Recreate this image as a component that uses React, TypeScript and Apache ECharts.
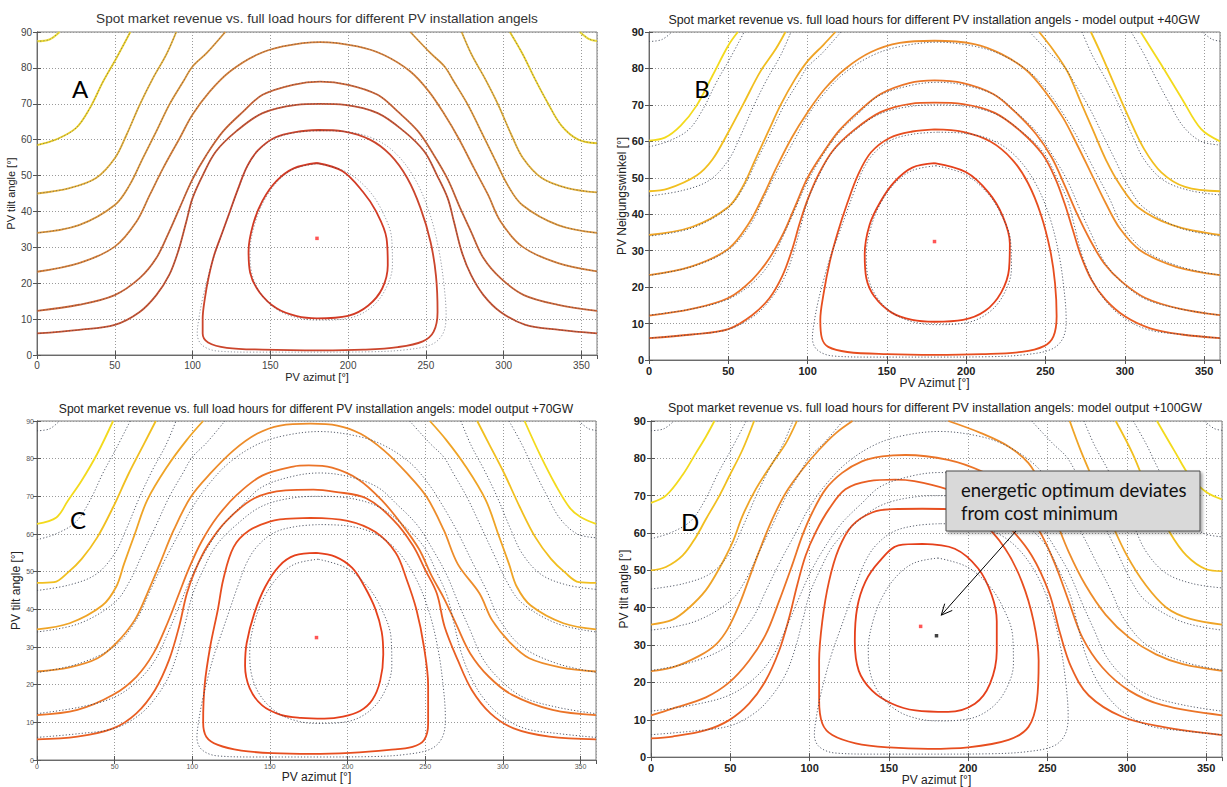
import React, { useEffect, useRef } from "react";
import * as echarts from "echarts";

type Pt = [number, number];

// ---------- axes ----------
const AZIMUT_RANGE: [number, number] = [0, 360];
const AZIMUT_STEP = 50;
const TILT_RANGE: [number, number] = [0, 90];
const TILT_STEP = 10;

// ---------- texts ----------
const PANEL_TITLES = [
  "Spot market revenue vs. full load hours for different PV installation angels",
  "Spot market revenue vs. full load hours for different PV installation angels - model output +40GW",
  "Spot market revenue vs. full load hours for different PV installation angels: model output +70GW",
  "Spot market revenue vs. full load hours for different PV installation angels: model output +100GW",
];
const PANEL_LETTERS = ["A", "B", "C", "D"];
const X_NAMES = ["PV azimut [°]", "PV Azimut [°]", "PV azimut [°]", "PV azimut [°]"];
const Y_NAMES = ["PV tilt angle [°]", "PV Neigungswinkel [°]", "PV tilt angle [°]", "PV tilt angle [°]"];
const NOTE_LINES = ["energetic optimum deviates", "from cost minimum"];

// ---------- reference contours (dotted, energy yield, identical in all panels) ----------
const REF_L0_LEFT: Pt[] = [[0, 87.4], [8, 87.9], [14.5, 90]];
const REF_L0_RIGHT: Pt[] = [[349, 90], [355, 88], [360, 87.5]];
const REF_L1_LEFT: Pt[] = [[0, 58.5], [12, 60], [25, 63.2], [34, 68.8], [42.5, 76.2], [51, 82.7], [60, 90]];
const REF_L1_RIGHT: Pt[] = [[304, 90], [312, 84], [320, 77], [328, 70.5], [337, 64], [348, 60], [360, 59]];
const REF_L2_LEFT: Pt[] = [[0, 45], [21, 46.5], [38, 49.3], [50, 54.8], [57.5, 61.3], [66, 69.7], [74.5, 77.1], [83, 83.6], [89.5, 90]];
const REF_L2_RIGHT: Pt[] = [[273, 90], [279.5, 83.6], [288, 77], [296.5, 69.7], [305, 61.3], [312.5, 54.8], [324.5, 49.3], [341, 46.5], [360, 45.3]];
const REF_L3_LEFT: Pt[] = [[0, 34], [27, 36.2], [50, 41.8], [59.6, 47.4], [68, 54.8], [76.7, 62.3], [85, 69.7], [94, 76.2], [100, 80.4], [109, 84.1], [121, 90]];
const REF_L3_RIGHT: Pt[] = [[240, 90], [253, 84.1], [262, 80.4], [268, 76.2], [277, 69.7], [285.5, 62.3], [294, 54.8], [302.5, 47.4], [312, 41.8], [335, 36.2], [360, 34]];
const REF_R5: Pt[] = [[0, 23.2], [27, 25.6], [50, 30.2], [64, 37.2], [72.5, 44.6], [81, 52], [91.7, 60.4], [100, 67], [111, 73.4], [124, 79], [141, 83.6], [158, 86], [182, 87.2], [206, 86], [223, 83.6], [240, 79], [252, 73.4], [262, 67], [271, 60.4], [281, 52], [290, 44.6], [298, 37.2], [312, 30.2], [335, 25.6], [360, 23.3]];
const REF_R4: Pt[] = [[0, 12.3], [27, 14], [50, 16.7], [66, 21.4], [76.7, 27], [85, 34.4], [91.7, 41], [100, 49], [109, 55.8], [119.6, 62.3], [132.5, 67.8], [145, 72.5], [164.6, 75.3], [182, 76.2], [200, 75.3], [219, 72.5], [232, 67.8], [245, 62.3], [255, 55.8], [264, 49], [272, 41], [279, 34.4], [287, 27], [298, 21.4], [313, 16.7], [335, 14], [360, 12.3]];
const REF_R3: Pt[] = [[0, 6], [27, 7], [50, 8.4], [66, 12], [76.7, 16.7], [85, 22.3], [90.7, 28.8], [96, 37.2], [100, 43.7], [106.7, 50.2], [115, 56.7], [128, 62.3], [145, 67.4], [166.8, 69.7], [182, 70], [198, 69.7], [219, 67.4], [236, 62.3], [249, 56.7], [257, 50.2], [264, 43.7], [268, 37.2], [273, 28.8], [279, 22.3], [287, 16.7], [298, 12], [314, 8.4], [336, 7], [360, 6]];
const REF_U: Pt[] = [[182, 62.5], [167, 62], [153, 60.4], [142, 56.8], [135, 52.3], [129, 45.8], [124, 39.8], [119, 33.8], [114, 27.8], [110, 21.8], [106.5, 15.8], [104, 10], [103, 6], [106, 2.8], [116, 1.1], [140, 0.8], [182, 0.8], [215, 0.9], [238, 1.5], [254, 3], [261, 6], [263, 11], [261.5, 20], [258, 30], [252, 40], [243, 49], [231, 56], [217, 60.2], [199, 62.2], [182, 62.5]];
const REF_R1: Pt[] = [[181, 53.3], [166, 52], [155, 48.5], [146, 43], [140, 36.5], [137, 29], [138, 23], [144, 17], [155, 12.5], [168, 10.3], [181, 9.7], [201, 10.3], [215, 13.3], [224, 18.3], [228.5, 25], [228, 32.5], [222, 40], [213, 46], [199, 51], [181, 53.3]];

// ---------- panel A (status quo) ----------
const A_U: Pt[] = [[181, 62.7], [167, 62.2], [153, 60.6], [142, 57], [135, 52.5], [129, 46], [124, 40], [119, 34], [114, 28], [110.5, 22], [108, 16], [106.5, 10], [106.5, 6], [110, 3.5], [122, 2], [145, 1.5], [182, 1.3], [210, 1.5], [232, 2.2], [248, 3.8], [255, 6.5], [257.5, 12], [256.5, 22], [253, 31.5], [246.5, 41], [238, 49.3], [227, 55.8], [214, 60], [197, 62.3], [181, 62.7]];
const A_R1: Pt[] = [[180, 53.5], [165, 52], [154, 48.5], [145, 43], [139, 36.5], [136, 29], [137, 23], [143, 17.5], [154, 13], [167, 10.8], [180, 10.2], [200, 10.9], [213, 13.8], [222, 18.6], [225.5, 25], [224.7, 32.5], [218, 40], [209.5, 45.5], [196.5, 51.2], [180, 53.5]];

// ---------- panel B (+40 GW) ----------
const B_L1_LEFT: Pt[] = [[0, 60.2], [10, 61], [20, 64.3], [30, 69.8], [40, 78], [50, 86.3], [56, 90]];
const B_L1_RIGHT: Pt[] = [[310, 90], [323, 81], [336, 71.7], [348, 63.4], [360, 60]];
const B_L2_LEFT: Pt[] = [[0, 46.3], [12, 47], [30, 50.6], [40, 55], [50, 62.5], [60, 70.7], [70, 79], [80, 85.4], [86, 90]];
const B_L2_RIGHT: Pt[] = [[278.6, 90], [285, 84], [293, 76], [302, 67], [312, 58], [323, 51.5], [338, 47.5], [360, 46.3]];
const B_L3_LEFT: Pt[] = [[0, 34.3], [27, 36.5], [50, 42], [59, 47.5], [67, 55], [75, 62.5], [83, 70], [92, 77], [100, 82], [110, 86.5], [117.5, 90]];
const B_L3_RIGHT: Pt[] = [[246, 90], [255, 85], [264, 79], [272, 71], [280, 63], [288, 55], [297, 48], [308, 42], [330, 37], [360, 34.3]];
const B_R5: Pt[] = [[0, 23.3], [27, 25.7], [50, 30.5], [63, 37.5], [72, 45], [80, 52.5], [90, 61], [100, 68], [111, 74.5], [124, 80], [140, 84.5], [158, 87], [180, 87.6], [205, 86.7], [222, 84], [238, 79.5], [250, 73.5], [261, 66.5], [270, 59], [279, 51], [288, 43], [297, 36], [310, 30], [333, 25.5], [360, 23.3]];
const B_R4: Pt[] = [[0, 12.2], [27, 14], [50, 17], [65, 22], [76, 28], [85, 35], [92, 42], [100, 50], [110, 57], [120, 63], [133, 68.5], [146, 73], [164, 76], [180, 76.7], [198, 76], [217, 73], [231, 68], [244, 62], [254, 55.5], [262, 48], [270, 40], [278, 33], [287, 26.5], [298, 21.5], [313, 17], [335, 14], [360, 12.3]];
const B_R3: Pt[] = [[0, 6], [27, 7], [50, 8.5], [65, 12.3], [76, 17], [84, 23], [90, 30], [95, 37.5], [100, 44], [107, 51], [116, 57.5], [129, 63], [146, 68], [165, 70.3], [180, 70.6], [198, 70.2], [218, 67.8], [235, 62.5], [248, 56.5], [256, 50], [262, 43], [267, 36], [272, 29], [279, 22], [288, 16.5], [300, 12], [316, 8.7], [336, 7], [360, 6]];
const B_U: Pt[] = [[180, 63.3], [166, 62.7], [152, 61], [140, 57], [132, 51], [125, 43], [119, 35], [114, 27], [110, 18], [108, 11], [109, 6], [113, 3.6], [125, 2.2], [150, 1.6], [180, 1.4], [210, 1.6], [235, 2.2], [249, 3.8], [255, 6.5], [257, 12], [256, 21], [253, 30], [247, 40], [239, 48.5], [229, 55], [215, 60], [198, 62.6], [180, 63.3]];
const B_R1: Pt[] = [[180, 54], [166, 52.8], [155, 49], [146, 43.5], [139, 37], [136, 29], [137, 22.5], [142, 17.5], [153, 13], [166, 11], [180, 10.5], [198, 11], [212, 13.5], [222, 18.5], [227, 25], [227.5, 32], [223, 39.5], [214, 46], [200, 51.5], [180, 54]];

// ---------- panel C (+70 GW) ----------
const C_L1_LEFT: Pt[] = [[0, 62.7], [12.5, 64.4], [20, 68.9], [28.8, 74.2], [38.8, 81.3], [49, 90]];
const C_L1_RIGHT: Pt[] = [[314, 90], [324, 81], [334, 73], [343, 67], [350, 64.5], [360, 62.7]];
const C_L2_LEFT: Pt[] = [[0, 47], [11, 47.2], [20, 49.8], [28.8, 53.4], [38.8, 59.1], [49, 67.1], [59, 76], [69, 84], [76.5, 90]];
const C_L2_RIGHT: Pt[] = [[283.5, 90], [291, 84], [301, 76], [311, 67.1], [321, 59.1], [331, 53.4], [340, 49.8], [349, 47.2], [360, 47]];
const C_L3_LEFT: Pt[] = [[0, 34.7], [21, 36.3], [42, 41], [51, 46], [56, 52], [63, 60], [71, 69], [84, 78], [96.5, 85], [107, 90]];
const C_L3_RIGHT: Pt[] = [[253, 90], [263.5, 85], [276, 78], [289, 69], [297, 60], [304, 52], [309, 46], [318, 41], [339, 36.3], [360, 34.7]];
const C_R5: Pt[] = [[0, 23.5], [21, 24.6], [39, 27], [51, 31], [63, 37.2], [71, 44.2], [79, 52], [88, 61], [99, 69.8], [111.5, 76], [126.6, 82.2], [141.6, 86.6], [156.6, 88.8], [176, 89.3], [193.4, 88.8], [208.4, 86.6], [223.4, 82.2], [238.5, 76], [251, 69.8], [262, 61], [271, 52], [285, 44.2], [293, 37.2], [305, 31], [317, 27], [337, 24.6], [360, 23.5]];
const C_R4: Pt[] = [[0, 11.9], [26, 13.3], [49, 17.3], [64, 22.1], [75, 28.3], [84, 36.3], [91.5, 44.2], [98, 51], [106, 58], [116, 64.5], [129, 70.5], [145, 75.5], [165, 77.9], [175, 78.2], [190, 77.6], [207, 74.5], [222, 69], [235, 62.5], [246, 56], [254, 49], [262, 43], [270, 36], [279, 28.3], [291, 22.1], [306, 17.3], [332, 13.3], [360, 11.9]];
const C_R3: Pt[] = [[0, 5.5], [26, 6.2], [49, 8.4], [64, 12.4], [76, 18.6], [85, 26.5], [91.5, 35.4], [96.5, 44.2], [102, 50.5], [110, 57], [122, 63.5], [140, 69.5], [160, 71.6], [178, 71.8], [192, 71.2], [212, 69.5], [230, 63.5], [242, 57], [250, 50.5], [257.5, 44.2], [262.5, 35.4], [271, 26.5], [280, 18.6], [292, 12.4], [307, 8.4], [330, 6.2], [360, 5.5]];
const C_U: Pt[] = [[176, 64.3], [160, 64], [151.6, 63.5], [136.6, 60.9], [126.6, 56.5], [120, 48], [116.5, 40], [111.5, 30], [108, 20], [107, 10], [109, 6.2], [116.5, 4], [131.6, 2.5], [151.6, 1.8], [176.7, 1.6], [201.8, 1.9], [226.8, 2.7], [241.8, 3.5], [249.3, 5.3], [251.9, 9.7], [251.9, 19.8], [249.3, 29.8], [244.3, 40], [238, 48], [231, 55], [218, 60.5], [200, 63.5], [176, 64.3]];
const C_R1: Pt[] = [[180, 55], [166, 54.3], [156, 51.5], [147, 46], [140, 39], [135, 31], [134, 25], [137, 19], [145, 14.5], [157, 12], [170, 11.2], [185, 11], [197, 11.5], [208, 13], [216, 16], [221, 21], [223, 28], [222, 34], [218, 40], [211, 46], [203, 51], [192, 54], [180, 55]];

// ---------- panel D (+100 GW) ----------
const D_L1_LEFT: Pt[] = [[0, 68.1], [9.4, 70], [20, 75.6], [28.3, 81.4], [34.6, 85.8], [40, 90]];
const D_L1_RIGHT: Pt[] = [[319, 90], [330, 82], [340, 75], [350, 71], [360, 69]];
const D_L2_LEFT: Pt[] = [[0, 50], [9.4, 50.9], [20, 54], [28.3, 58.9], [34.6, 63.7], [43, 69.9], [49.3, 75.2], [57.7, 82.3], [65, 90]];
const D_L2_RIGHT: Pt[] = [[293, 90], [303.5, 81.4], [314, 70.8], [327, 60.2], [337.5, 54], [350, 50.3], [360, 49.8]];
const D_L3_LEFT: Pt[] = [[0, 35.5], [13.6, 36.8], [24, 40], [34.6, 44.7], [43, 50.5], [51.4, 57.5], [57.7, 64.6], [66, 71.7], [76.5, 78.7], [85, 84], [92, 90]];
const D_L3_RIGHT: Pt[] = [[264, 90], [271, 82], [280, 73], [290, 63], [300, 54], [312, 46], [325, 40], [340, 37], [360, 35.5]];
const D_R5_LEFT: Pt[] = [[0, 23], [13.6, 24], [30.4, 27.1], [41, 30.2], [48.2, 34.2], [55.6, 40.8], [61.8, 47.8], [68, 54.9], [76.5, 63.7], [85, 70.8], [95.4, 77], [106, 82.3], [116.4, 86.7], [127, 90]];
const D_R5_RIGHT: Pt[] = [[187.5, 90], [208.5, 86.7], [225.4, 83.2], [238, 78.7], [246.5, 72.5], [255, 63.7], [263.4, 54.9], [274, 46], [286.7, 38.1], [301.5, 32], [318.4, 27.5], [335.3, 24.9], [360, 23.1]];
const D_R4: Pt[] = [[0, 11.2], [13.6, 13], [34.6, 16], [49.3, 20], [61.8, 25.8], [72.3, 32.8], [80.7, 41.7], [89, 51.4], [95.4, 59.3], [101.7, 65.5], [110, 71.7], [120.5, 76.1], [133, 79.2], [145.7, 80.5], [160.4, 80.9], [187.3, 79.6], [208.5, 76.5], [223.3, 72.5], [236, 66.4], [246.5, 59.3], [255, 51.4], [263.4, 41.7], [272, 32], [284.6, 24], [301.5, 17.8], [322.6, 13.9], [360, 11.2]];
const D_R3: Pt[] = [[0, 5], [13.6, 5.5], [34.6, 7.2], [49.3, 9.9], [61.8, 14.3], [72.3, 20.5], [80.7, 28.4], [87, 37.2], [92.2, 46.1], [97.5, 54], [103.8, 60.2], [112.2, 66.4], [122.6, 71.7], [137.3, 73.9], [154, 74.3], [166, 73.9], [187, 71.7], [208.5, 68.1], [226, 61.5], [240, 54], [251, 44], [258, 33], [265, 24], [276, 16.5], [297, 10.8], [322.6, 8.1], [360, 5.9]];
const D_U: Pt[] = [[171, 66.5], [152, 66.4], [139.4, 65.5], [126.8, 62], [118.4, 55.8], [112.2, 47], [108, 36.4], [106, 25.8], [106, 15.2], [108, 9], [114.3, 5.9], [129, 3.7], [150, 2.6], [175, 2.2], [200, 2.6], [225.4, 4.6], [238, 8.1], [243.3, 15.2], [244.4, 25.8], [241.2, 36.4], [233.8, 47], [223.3, 55.8], [208.5, 62.8], [187.3, 66.4], [171, 66.5]];
const D_R1: Pt[] = [[171, 57.1], [156, 56.7], [143.6, 52.2], [135.2, 47], [130, 40], [128.5, 31], [131, 23.1], [139.4, 17.8], [152, 14.3], [166.7, 12.5], [187.3, 12.1], [204.2, 14.3], [213.7, 19.6], [218, 28.4], [218, 36.4], [214.8, 43.4], [206.3, 50.5], [191.5, 55.8], [171, 57.1]];

// ---------- optimum markers ----------
const COST_MINIMUM: Pt[] = [[180, 32.5], [180, 32.5], [180, 32.5], [170, 35]];
const ENERGETIC_OPTIMUM_D: Pt = [180, 32.5];
const NOTE_ARROW_TIP: Pt = [183, 38];

// ---------- assembling (level index, points) ----------
const REF_CURVES: Pt[][] = [REF_L0_LEFT, REF_L0_RIGHT, REF_L1_LEFT, REF_L1_RIGHT, REF_L2_LEFT, REF_L2_RIGHT, REF_L3_LEFT, REF_L3_RIGHT, REF_R5, REF_R4, REF_R3, REF_U, REF_R1];
const PANEL_CURVES: [number, Pt[]][][] = [
  [[0, REF_L0_LEFT], [0, REF_L0_RIGHT], [1, REF_L1_LEFT], [1, REF_L1_RIGHT], [2, REF_L2_LEFT], [2, REF_L2_RIGHT], [3, REF_L3_LEFT], [3, REF_L3_RIGHT], [4, REF_R5], [5, REF_R4], [6, REF_R3], [7, A_U], [8, A_R1]],
  [[1, B_L1_LEFT], [1, B_L1_RIGHT], [2, B_L2_LEFT], [2, B_L2_RIGHT], [3, B_L3_LEFT], [3, B_L3_RIGHT], [4, B_R5], [5, B_R4], [6, B_R3], [7, B_U], [8, B_R1]],
  [[1, C_L1_LEFT], [1, C_L1_RIGHT], [2, C_L2_LEFT], [2, C_L2_RIGHT], [3, C_L3_LEFT], [3, C_L3_RIGHT], [4, C_R5], [5, C_R4], [6, C_R3], [7, C_U], [8, C_R1]],
  [[1, D_L1_LEFT], [1, D_L1_RIGHT], [2, D_L2_LEFT], [2, D_L2_RIGHT], [3, D_L3_LEFT], [3, D_L3_RIGHT], [4, D_R5_LEFT], [4, D_R5_RIGHT], [5, D_R4], [6, D_R3], [7, D_U], [8, D_R1]],
];

// ---------- styles ----------
const LEVEL_COLORS = ["#f2e64a", "#f3da1c", "#f1bf1f", "#efa426", "#ed8c2a", "#eb7428", "#e95f23", "#e74e1f", "#e5401b"];
const LEVEL_COLORS_A = ["#f0de3c", "#eccf2a", "#e4b03a", "#dd963a", "#d9823a", "#cf6636", "#c95432", "#cb452c", "#d23a24"];
const LAYOUT = [
  { grid: { left: 37, top: 32, width: 560, height: 323 }, tick: 10, weight: "normal", tickColor: "#444", name: 11, yGap: 18, xGap: 16, tMargin: 5, tx: 317, ty: 18, ts: 13.6, tc: "#333", lx: 80, ly: 88 },
  { grid: { left: 649, top: 32, width: 571, height: 328 }, tick: 11, weight: "bold", tickColor: "#222", name: 12, yGap: 20, xGap: 15, tMargin: 5, tx: 934, ty: 20, ts: 12.4, tc: "#222", lx: 702, ly: 88 },
  { grid: { left: 37, top: 421, width: 559, height: 339 }, tick: 7, weight: "normal", tickColor: "#555", name: 12, yGap: 13, xGap: 11, tMargin: 3, tx: 316, ty: 409, ts: 12.1, tc: "#222", lx: 78, ly: 519 },
  { grid: { left: 651, top: 421, width: 571, height: 340 }, tick: 11, weight: "bold", tickColor: "#222", name: 12, yGap: 18, xGap: 14, tMargin: 5, tx: 935, ty: 408, ts: 12.4, tc: "#222", lx: 690, ly: 521 },
];
const SANS = "'Liberation Sans', Arial, sans-serif";
const NOTE_FONT = "Lato, 'Open Sans', sans-serif";

export default function App() {
  const ref = useRef<HTMLDivElement>(null);
  useEffect(() => {
    document.body.style.margin = "0";
    if (!ref.current) return;
    const chart = echarts.init(ref.current, undefined, { renderer: "svg" });

    const grids: any[] = [];
    const xAxes: any[] = [];
    const yAxes: any[] = [];
    const topAxes: any[] = [];
    const rightAxes: any[] = [];
    const series: any[] = [];
    const graphics: any[] = [];

    LAYOUT.forEach((L, i) => {
      grids.push({ ...L.grid, show: true, borderColor: "#7a7a7a", borderWidth: 1, backgroundColor: "#fff", containLabel: false });
      const common = {
        type: "value",
        gridIndex: i,
        axisLine: { show: true, lineStyle: { color: "#6a6a6a", width: 1 } },
        axisTick: { show: true, inside: true, length: 4, lineStyle: { color: "#555" } },
      };
      xAxes.push({
        ...common,
        min: AZIMUT_RANGE[0], max: AZIMUT_RANGE[1], interval: AZIMUT_STEP,
        name: X_NAMES[i], nameLocation: "middle", nameGap: L.xGap,
        nameTextStyle: { fontFamily: SANS, fontSize: L.name, color: "#222" },
        axisLabel: { fontFamily: SANS, fontSize: L.tick, fontWeight: L.weight, color: L.tickColor, margin: L.tMargin, showMaxLabel: false },
        splitLine: { show: true, lineStyle: { type: [1, 2], color: "#9a9a9a", width: 1 } },
      });
      yAxes.push({
        ...common,
        min: TILT_RANGE[0], max: TILT_RANGE[1], interval: TILT_STEP,
        name: Y_NAMES[i], nameLocation: "middle", nameGap: L.yGap,
        nameTextStyle: { fontFamily: SANS, fontSize: L.name, color: "#222" },
        axisLabel: { fontFamily: SANS, fontSize: L.tick, fontWeight: L.weight, color: L.tickColor, margin: L.tMargin },
        splitLine: { show: true, lineStyle: { type: [1, 2], color: "#9a9a9a", width: 1 } },
      });
      topAxes.push({ ...common, position: "top", min: AZIMUT_RANGE[0], max: AZIMUT_RANGE[1], interval: AZIMUT_STEP, axisLabel: { show: false }, splitLine: { show: false } });
      rightAxes.push({ ...common, position: "right", min: TILT_RANGE[0], max: TILT_RANGE[1], interval: TILT_STEP, axisLabel: { show: false }, splitLine: { show: false } });

      const palette = i === 0 ? LEVEL_COLORS_A : LEVEL_COLORS;
      PANEL_CURVES[i].forEach(([lvl, pts]) => {
        series.push({
          type: "line", xAxisIndex: i, yAxisIndex: i, data: pts, showSymbol: false, smooth: 0.35,
          silent: true, z: 2,
          lineStyle: { color: palette[lvl], width: lvl === 0 ? 2 : 1.8 },
        });
      });
      REF_CURVES.forEach((pts) => {
        series.push({
          type: "line", xAxisIndex: i, yAxisIndex: i, data: pts, showSymbol: false, smooth: 0.35,
          silent: true, z: 3,
          lineStyle: { color: "#3c4354", width: 1, type: [1.2, 2], opacity: i === 0 ? 0.55 : 0.85 },
        });
      });
      series.push({
        type: "scatter", xAxisIndex: i, yAxisIndex: i, data: [COST_MINIMUM[i]], symbol: "rect", symbolSize: 3.5,
        itemStyle: { color: "#ff2a2a" }, z: 5, silent: true,
      });
      if (i === 3) {
        series.push({
          type: "scatter", xAxisIndex: i, yAxisIndex: i, data: [ENERGETIC_OPTIMUM_D], symbol: "rect", symbolSize: 3.5,
          itemStyle: { color: "#111" }, z: 5, silent: true,
        });
      }

      graphics.push({
        type: "text", x: L.tx, y: L.ty, z: 10,
        style: { text: PANEL_TITLES[i], fontFamily: SANS, fontSize: L.ts, fill: L.tc, textAlign: "center", textVerticalAlign: "middle" },
      });
      graphics.push({
        type: "text", x: L.lx, y: L.ly, z: 10,
        style: { text: PANEL_LETTERS[i], fontFamily: NOTE_FONT, fontSize: 24, fill: "#000", textAlign: "center", textVerticalAlign: "middle" },
      });
    });

    chart.setOption({
      animation: false,
      backgroundColor: "#fff",
      grid: grids,
      xAxis: [...xAxes, ...topAxes],
      yAxis: [...yAxes, ...rightAxes],
      series,
    });

    // annotation box + arrow in panel D
    const tip = chart.convertToPixel({ gridIndex: 3 }, NOTE_ARROW_TIP) as number[];
    const tail = [1016, 531];
    const dx = tip[0] - tail[0], dy = tip[1] - tail[1];
    const len = Math.hypot(dx, dy);
    const bx = -dx / len, by = -dy / len;
    const a = (25 * Math.PI) / 180, h = 12;
    const w1 = [tip[0] + h * (bx * Math.cos(a) - by * Math.sin(a)), tip[1] + h * (bx * Math.sin(a) + by * Math.cos(a))];
    const w2 = [tip[0] + h * (bx * Math.cos(a) + by * Math.sin(a)), tip[1] + h * (-bx * Math.sin(a) + by * Math.cos(a))];
    graphics.push(
      { type: "rect", z: 20, shape: { x: 946, y: 471, width: 254, height: 60 }, style: { fill: "#d9d9d9", stroke: "#4a4a4a", lineWidth: 1, shadowBlur: 3, shadowOffsetX: 2, shadowOffsetY: 2, shadowColor: "rgba(0,0,0,0.35)" } },
      { type: "text", z: 21, x: 961, y: 490, style: { text: NOTE_LINES[0], fontFamily: NOTE_FONT, fontSize: 18.5, fill: "#111", textVerticalAlign: "middle" } },
      { type: "text", z: 21, x: 961, y: 513, style: { text: NOTE_LINES[1], fontFamily: NOTE_FONT, fontSize: 18.5, fill: "#111", textVerticalAlign: "middle" } },
      { type: "line", z: 21, shape: { x1: tail[0], y1: tail[1], x2: tip[0], y2: tip[1] }, style: { stroke: "#000", lineWidth: 1 } },
      { type: "polyline", z: 21, shape: { points: [w1, tip, w2] }, style: { stroke: "#000", lineWidth: 1, fill: "none" } },
    );
    chart.setOption({ graphic: graphics });

    return () => chart.dispose();
  }, []);
  return <div ref={ref} style={{ width: 1227, height: 787 }} />;
}
